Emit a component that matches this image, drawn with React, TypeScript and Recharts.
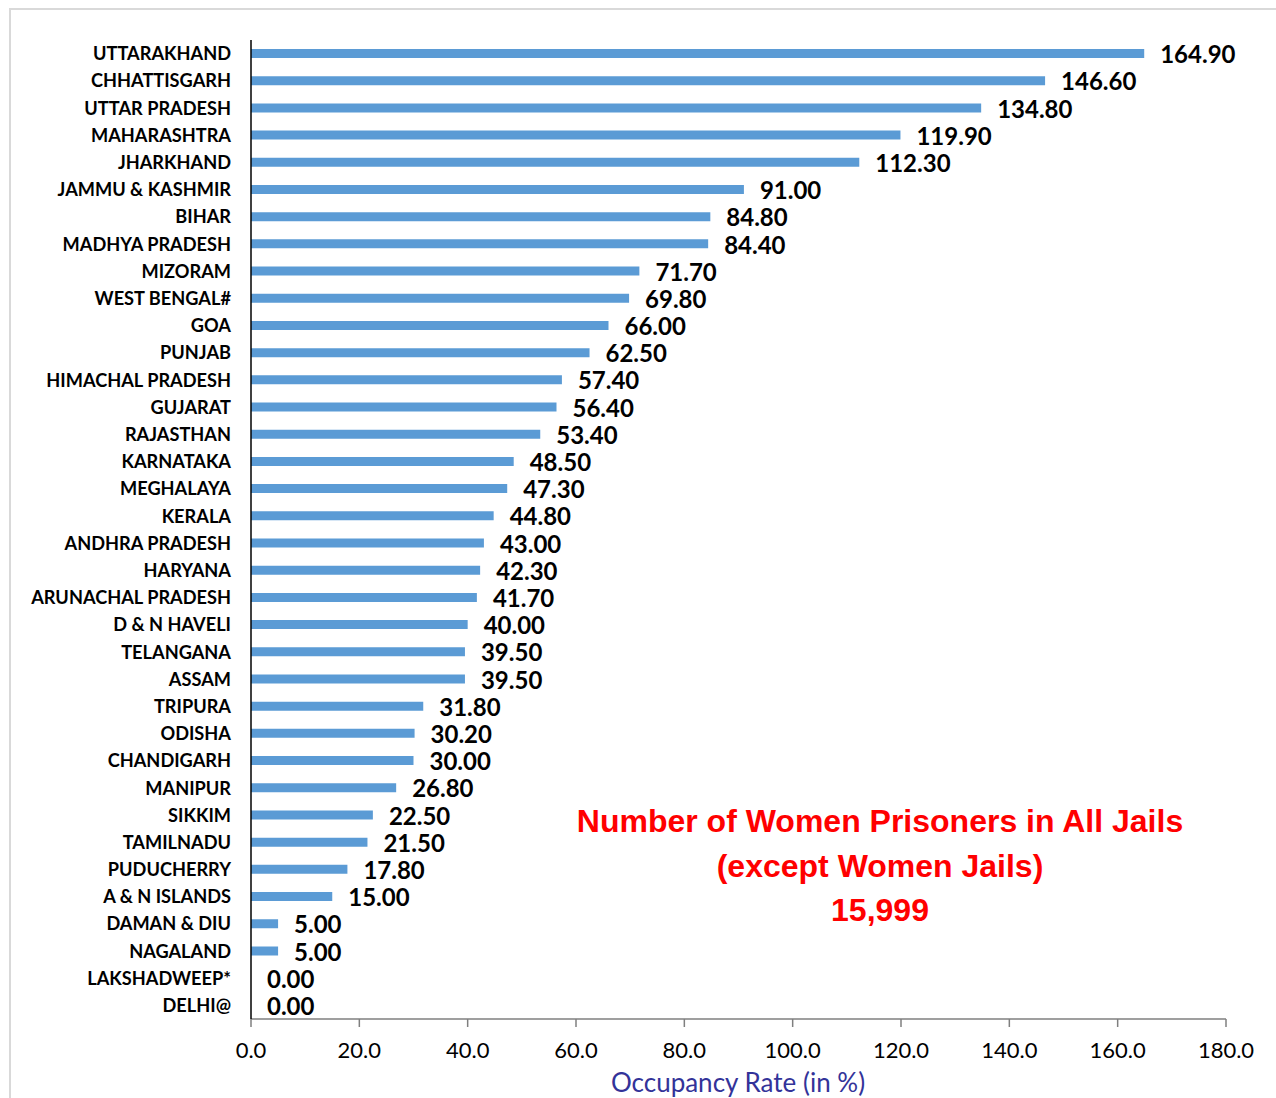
import React from "react";
import { BarChart, Bar, XAxis, YAxis, LabelList, Customized } from "recharts";

const states = [
  "UTTARAKHAND", "CHHATTISGARH", "UTTAR PRADESH", "MAHARASHTRA", "JHARKHAND",
  "JAMMU & KASHMIR", "BIHAR", "MADHYA PRADESH", "MIZORAM", "WEST BENGAL#",
  "GOA", "PUNJAB", "HIMACHAL PRADESH", "GUJARAT", "RAJASTHAN",
  "KARNATAKA", "MEGHALAYA", "KERALA", "ANDHRA PRADESH", "HARYANA",
  "ARUNACHAL PRADESH", "D & N HAVELI", "TELANGANA", "ASSAM", "TRIPURA",
  "ODISHA", "CHANDIGARH", "MANIPUR", "SIKKIM", "TAMILNADU",
  "PUDUCHERRY", "A & N ISLANDS", "DAMAN & DIU", "NAGALAND", "LAKSHADWEEP*",
  "DELHI@",
];

const occupancy = [
  164.9, 146.6, 134.8, 119.9, 112.3,
  91.0, 84.8, 84.4, 71.7, 69.8,
  66.0, 62.5, 57.4, 56.4, 53.4,
  48.5, 47.3, 44.8, 43.0, 42.3,
  41.7, 40.0, 39.5, 39.5, 31.8,
  30.2, 30.0, 26.8, 22.5, 21.5,
  17.8, 15.0, 5.0, 5.0, 0.0,
  0.0,
];

const xTicks = [0, 20, 40, 60, 80, 100, 120, 140, 160, 180];
const noteLines = ["Number of Women Prisoners in All Jails", "(except Women Jails)", "15,999"];
const axisTitle = "Occupancy Rate (in %)";

const data = states.map((s, i) => ({ state: s, value: occupancy[i] }));

const LABEL_FONT = "Lato, 'Open Sans', sans-serif";

const ValueLabel = (props: any) => {
  const { x, y, width, height, value } = props;
  return (
    <text
      x={Number(x) + Number(width) + 16}
      y={Number(y) + Number(height) / 2 + 3.5}
      dominantBaseline="middle"
      fontFamily={LABEL_FONT}
      fontWeight={700}
      fontSize={24}
      fill="#000"
    >
      {Number(value).toFixed(2)}
    </text>
  );
};

const CatTick = (props: any) => {
  const { x, y, payload } = props;
  return (
    <text
      x={x - 12}
      y={y + 2}
      textAnchor="end"
      dominantBaseline="middle"
      fontFamily={LABEL_FONT}
      fontWeight={700}
      fontSize={18.2}
      fill="#000"
    >
      {payload.value}
    </text>
  );
};

const NumTick = (props: any) => {
  const { x, y, payload } = props;
  return (
    <text
      x={x}
      y={y + 23.5}
      textAnchor="middle"
      dominantBaseline="middle"
      fontFamily={LABEL_FONT}
      fontSize={22}
      fill="#000"
    >
      {Number(payload.value).toFixed(1)}
    </text>
  );
};

const Notes = () => (
  <g>
    {noteLines.map((t, i) => (
      <text
        key={i}
        x={880}
        y={824 + i * 44.5}
        textAnchor="middle"
        dominantBaseline="middle"
        fontFamily="'Liberation Sans', Arial, sans-serif"
        fontWeight={700}
        fontSize={32}
        fill="#ff0000"
      >
        {t}
      </text>
    ))}
    <text
      x={738}
      y={1085}
      textAnchor="middle"
      dominantBaseline="middle"
      fontFamily={LABEL_FONT}
      fontSize={26}
      fill="#333399"
    >
      {axisTitle}
    </text>
  </g>
);

export default function App() {
  return (
    <div
      style={{
        position: "absolute",
        left: 0,
        top: 0,
        width: 1276,
        height: 1098,
        overflow: "hidden",
        background: "#fff",
      }}
    >
      <div
        style={{
          position: "absolute",
          left: 9,
          top: 8,
          width: 1400,
          height: 1300,
          border: "2px solid #d9d9d9",
        }}
      />
      <div style={{ position: "absolute", left: 0, top: 0 }}>
        <BarChart
          width={1276}
          height={1098}
          data={data}
          layout="vertical"
          margin={{ top: 40, right: 50, bottom: 0, left: 0 }}
        >
          <XAxis
            type="number"
            domain={[0, 180]}
            ticks={xTicks}
            height={79}
            tick={<NumTick />}
            tickLine={{ stroke: "#7f7f7f", strokeWidth: 1.5 }}
            tickSize={8}
            axisLine={{ stroke: "#7f7f7f", strokeWidth: 1.5 }}
            allowDataOverflow
          />
          <YAxis
            type="category"
            dataKey="state"
            width={251}
            tick={<CatTick />}
            tickLine={false}
            axisLine={{ stroke: "#000", strokeWidth: 1.5 }}
            interval={0}
          />
          <Bar
            dataKey="value"
            fill="#5b9bd5"
            barSize={9}
            minPointSize={(v: number) => (v === 0 ? 0.01 : 0)}
            isAnimationActive={false}
          >
            <LabelList dataKey="value" content={<ValueLabel />} />
          </Bar>
          <Customized component={<Notes />} />
        </BarChart>
      </div>
    </div>
  );
}
